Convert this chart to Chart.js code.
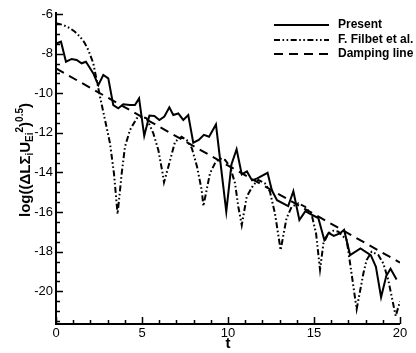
<!DOCTYPE html>
<html>
<head>
<meta charset="utf-8">
<script src="https://cdn.jsdelivr.net/npm/chart.js@4.4.1/dist/chart.umd.min.js"></script>
<style>
  html, body { margin: 0; padding: 0; background: #fff; }
  canvas { display: block; }
</style>
</head>
<body>
<canvas id="c" width="416" height="353"></canvas>
<script>
// Time axis tick labels and log-amplitude tick labels
const xTickValues = [0, 5, 10, 15, 20];
const yTickValues = [-20, -18, -16, -14, -12, -10, -8, -6];

// Present scheme
const presentT = [0, 0.29, 0.58, 0.91, 1.2, 1.49, 1.74, 1.98, 2.17, 2.46, 2.75, 3.04, 3.33, 3.62, 3.91, 4.3, 4.59, 4.83,
  5.13, 5.43, 5.72, 6.01, 6.3, 6.59, 6.82, 7.11, 7.4, 7.69, 7.98, 8.3, 8.6, 8.9, 9.3, 9.9,
  10.2, 10.5, 10.8, 11.1, 11.4, 11.7, 12.3, 12.55, 12.85, 13.5, 13.8, 14.15, 14.5, 14.8, 15.25,
  15.6, 15.85, 16.15, 16.5, 16.75, 17.1, 17.7, 18.3, 18.6, 18.9, 19.2, 19.45, 19.8];
const presentLog = [-7.5, -7.4, -8.41, -8.27, -8.32, -8.49, -8.41, -8.74, -9.0, -9.59, -9.08, -9.25, -10.6, -10.76, -10.56, -10.6, -10.6, -10.26,
  -12.15, -11.13, -11.15, -11.35, -11.18, -10.71, -11.1, -11.02, -11.35, -11.1, -12.5, -12.36, -12.1, -12.2, -11.58, -15.98,
  -13.6, -12.83, -14.1, -13.95, -14.4, -14.3, -14.02, -14.9, -15.4, -15.7, -14.95, -16.4, -15.95, -16.1, -16.3,
  -17.41, -17.05, -17.2, -17.08, -16.9, -18.17, -17.83, -18.17, -18.76, -20.3, -19.23, -18.86, -19.4];

// F. Filbet et al.
const filbetT = [0, 0.4, 0.81, 1.1, 1.4, 1.66, 1.88, 2.17, 2.36, 2.56, 2.85, 3.14, 3.37, 3.58, 3.82, 4.01, 4.3, 4.69, 4.98, 5.27,
  5.66, 5.95, 6.2, 6.28, 6.63, 6.92, 7.3, 7.6, 7.9, 8.2, 8.47, 8.57, 8.95, 9.24, 9.53, 9.83, 10.12, 10.41, 10.6, 10.8,
  11.09, 11.47, 11.76, 12.15, 12.44, 12.73, 13.06, 13.4, 13.7, 14.09, 14.48, 14.87, 15.12, 15.35, 15.55, 15.83, 16.13,
  16.42, 16.9, 17.1, 17.48, 17.87, 18.06, 18.35, 18.74, 19.03, 19.32, 19.52, 19.75, 20.0];
const filbetLog = [-6.47, -6.55, -6.72, -6.9, -7.15, -7.45, -7.82, -8.49, -9.33, -10.18, -11.35, -12.53, -14.05, -16.1, -14.05, -12.7, -11.86, -11.27, -11.19, -11.27,
  -12.03, -12.87, -14.05, -14.5, -13.4, -12.45, -12.2, -12.36, -12.78, -13.71, -14.89, -15.7, -14.05, -13.54, -13.29, -13.37, -13.71, -14.55, -15.73, -16.66,
  -15.22, -14.64, -14.38, -14.55, -14.97, -16.07, -17.92, -16.32, -15.73, -15.56, -15.73, -16.15, -17.08, -18.9, -17.58, -17.08, -16.94,
  -16.99, -17.41, -18.6, -20.9, -19.1, -18.42, -18.0, -18.17, -18.59, -19.43, -20.28, -21.25, -20.5];

// Damping line
const dampingT = [0, 20];
const dampingLog = [-8.75, -18.55];

const seriesNames = ['Present', 'F. Filbet et al.', 'Damping line'];
const dashes = [[], [6, 2.5, 1.6, 2.5, 1.6, 2.5], [9, 6]];

const toPoints = (ts, vs) => ts.map((t, i) => ({ x: t, y: vs[i] }));
const FONT = '"Liberation Sans", Arial, Helvetica, sans-serif';

const framePlugin = {
  id: 'frame',
  afterDraw(chart) {
    const ctx = chart.ctx;
    const xs = chart.scales.x, ys = chart.scales.y;
    const area = chart.chartArea;
    ctx.save();
    ctx.strokeStyle = '#000';
    ctx.fillStyle = '#000';
    ctx.setLineDash([]);

    // axis lines
    ctx.lineWidth = 2;
    ctx.beginPath();
    ctx.moveTo(area.left, area.top);
    ctx.lineTo(area.left, area.bottom);
    ctx.lineTo(area.right, area.bottom);
    ctx.stroke();

    // inward ticks: major every 5 (x) / 2 (y), minor every 1 (x) / 0.5 (y)
    ctx.lineWidth = 1.5;
    ctx.beginPath();
    for (let k = 0; k <= 20; k++) {
      const px = Math.round(xs.getPixelForValue(k)) + 0.5;
      const len = (k % 5 === 0) ? 7 : 4;
      ctx.moveTo(px, area.bottom);
      ctx.lineTo(px, area.bottom - len);
    }
    for (let k = -43; k <= -12; k++) {
      const v = k / 2;
      const py = Math.round(ys.getPixelForValue(v)) + 0.5;
      const len = (k % 4 === 0) ? 7 : 4;
      ctx.moveTo(area.left, py);
      ctx.lineTo(area.left + len, py);
    }
    ctx.stroke();

    // legend
    const legendRows = [25, 40, 54];
    chart.data.datasets.forEach((ds, i) => {
      const y = legendRows[i];
      ctx.lineWidth = 2;
      ctx.setLineDash(ds.borderDash || []);
      ctx.beginPath();
      ctx.moveTo(274, y);
      ctx.lineTo(329, y);
      ctx.stroke();
      ctx.setLineDash([]);
      ctx.font = 'bold 12px ' + FONT;
      ctx.textAlign = 'left';
      ctx.textBaseline = 'middle';
      ctx.fillText(ds.label, 338, y);
    });

    // x axis title
    ctx.font = 'bold 15px ' + FONT;
    ctx.textAlign = 'center';
    ctx.textBaseline = 'middle';
    ctx.fillText('t', (area.left + area.right) / 2, 344);

    // y axis title with sub- and superscripts
    const parts = [
      { t: 'log((\u0394L\u03A3', k: 0 },
      { t: 'i', k: -1 },
      { t: 'U', k: 0 },
      { t: 'Ei', k: -1 },
      { t: '2', k: 1 },
      { t: ')', k: 0 },
      { t: '0.5', k: 1 },
      { t: ')', k: 0 }
    ];
    const fontFor = k => (k === 0 ? 'bold 15px ' : 'bold 10px ') + FONT;
    let total = 0;
    parts.forEach(p => { ctx.font = fontFor(p.k); p.w = ctx.measureText(p.t).width; total += p.w; });
    ctx.translate(30, 160);
    ctx.rotate(-Math.PI / 2);
    ctx.textAlign = 'left';
    ctx.textBaseline = 'alphabetic';
    let cx = -total / 2;
    parts.forEach(p => {
      ctx.font = fontFor(p.k);
      const dy = p.k === 1 ? -7 : (p.k === -1 ? 3 : 0);
      ctx.fillText(p.t, cx, dy);
      cx += p.w;
    });
    ctx.restore();
  }
};

new Chart(document.getElementById('c'), {
  type: 'line',
  data: {
    datasets: [
      { label: seriesNames[0], data: toPoints(presentT, presentLog), borderDash: dashes[0] },
      { label: seriesNames[1], data: toPoints(filbetT, filbetLog), borderDash: dashes[1] },
      { label: seriesNames[2], data: toPoints(dampingT, dampingLog), borderDash: dashes[2] }
    ].map(d => Object.assign(d, {
      borderColor: '#000', borderWidth: 2, pointRadius: 0, tension: 0, fill: false
    }))
  },
  options: {
    responsive: false,
    devicePixelRatio: 1,
    animation: false,
    layout: { padding: { left: 0, right: 16, top: 12, bottom: 0 } },
    plugins: { legend: { display: false }, tooltip: { enabled: false } },
    scales: {
      x: {
        type: 'linear', min: 0, max: 20,
        grid: { display: false, drawTicks: false, tickLength: 0 }, border: { display: false },
        afterBuildTicks: s => { s.ticks = xTickValues.map(v => ({ value: v })); },
        afterFit: s => { s.height = 29; },
        ticks: { padding: 2, color: '#000', font: { family: FONT, size: 13 }, maxRotation: 0, autoSkip: false }
      },
      y: {
        type: 'linear', min: -21.65, max: -5.9,
        grid: { display: false, drawTicks: false, tickLength: 0 }, border: { display: false },
        afterBuildTicks: s => { s.ticks = yTickValues.map(v => ({ value: v })); },
        afterFit: s => { s.width = 56; },
        ticks: { padding: 3, color: '#000', font: { family: FONT, size: 13 }, autoSkip: false }
      }
    }
  },
  plugins: [framePlugin]
});
</script>
</body>
</html>
